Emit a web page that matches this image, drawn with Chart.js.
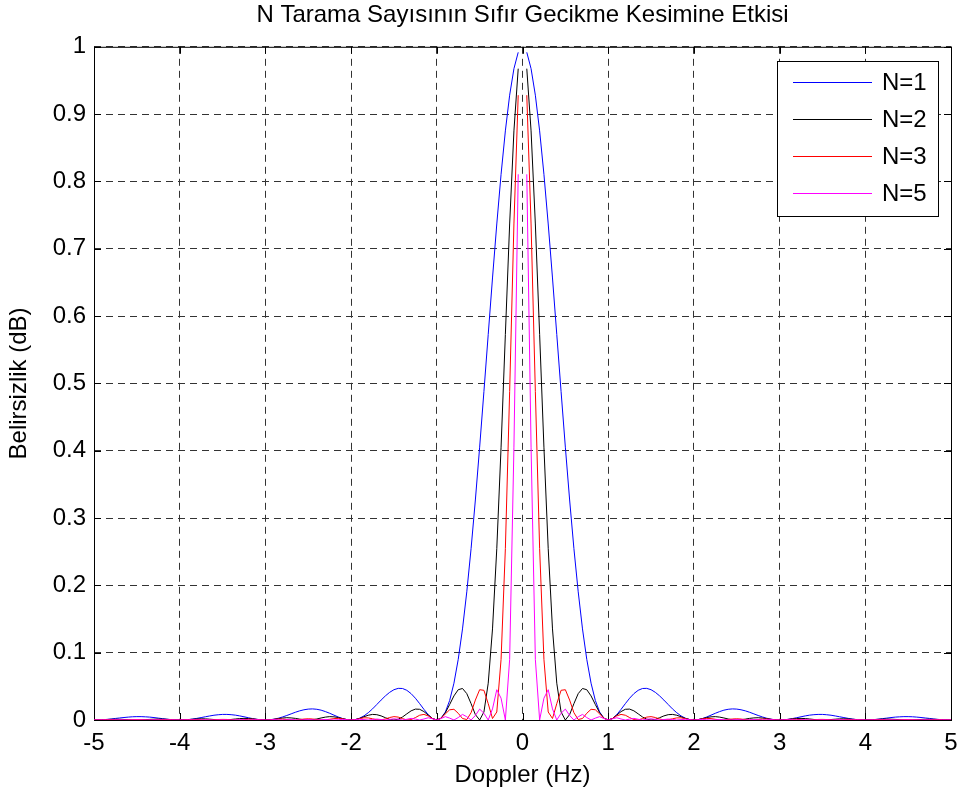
<!DOCTYPE html>
<html>
<head>
<meta charset="utf-8">
<title>N Tarama Sayısının Sıfır Gecikme Kesimine Etkisi</title>
<script src="https://cdn.jsdelivr.net/npm/chart.js@4.4.1/dist/chart.umd.min.js"></script>
<style>
    html, body { margin: 0; padding: 0; background: #fff; }
    #wrap { width: 963px; height: 796px; }
</style>
</head>
<body>
<div id="wrap"><canvas id="ambChart" width="963" height="796"></canvas></div>
<script>
// positive Doppler side (Hz); the curves are symmetric around 0
const dopplerHz = [
    0, 0.05, 0.1, 0.15, 0.2, 0.25, 0.3, 0.35, 0.4, 0.45,
    0.5, 0.55, 0.6, 0.65, 0.7, 0.75, 0.8, 0.85, 0.9, 0.95,
    1, 1.05, 1.1, 1.15, 1.2, 1.25, 1.3, 1.35, 1.4, 1.45,
    1.5, 1.55, 1.6, 1.65, 1.7, 1.75, 1.8, 1.85, 1.9, 1.95,
    2, 2.05, 2.1, 2.15, 2.2, 2.25, 2.3, 2.35, 2.4, 2.45,
    2.5, 2.55, 2.6, 2.65, 2.7, 2.75, 2.8, 2.85, 2.9, 2.95,
    3, 3.05, 3.1, 3.15, 3.2, 3.25, 3.3, 3.35, 3.4, 3.45,
    3.5, 3.55, 3.6, 3.65, 3.7, 3.75, 3.8, 3.85, 3.9, 3.95,
    4, 4.05, 4.1, 4.15, 4.2, 4.25, 4.3, 4.35, 4.4, 4.45,
    4.5, 4.55, 4.6, 4.65, 4.7, 4.75, 4.8, 4.85, 4.9, 4.95,
    5
];

// gap at 0 Hz (no sample drawn there)
const belirsizlikN1 = [
    null, 0.9918, 0.9675, 0.9281, 0.8751, 0.8106, 0.7368, 0.6566, 0.5728, 0.4881,
    0.4053, 0.3268, 0.2546, 0.1904, 0.1353, 0.0901, 0.0547, 0.0289, 0.0119, 0.0027,
    0, 0.0022, 0.0080, 0.0158, 0.0243, 0.0324, 0.0392, 0.0441, 0.0468, 0.0470,
    0.0450, 0.0411, 0.0358, 0.0296, 0.0230, 0.0165, 0.0108, 0.0061, 0.0027, 0.0007,
    0, 0.0006, 0.0022, 0.0045, 0.0072, 0.0100, 0.0125, 0.0146, 0.0159, 0.0165,
    0.0162, 0.0152, 0.0136, 0.0115, 0.0091, 0.0067, 0.0045, 0.0026, 0.0012, 0.0003,
    0, 0.0003, 0.0010, 0.0021, 0.0034, 0.0048, 0.0061, 0.0072, 0.0079, 0.0083,
    0.0083, 0.0078, 0.0071, 0.0060, 0.0048, 0.0036, 0.0024, 0.0014, 0.0006, 0.0002,
    0, 0.0002, 0.0006, 0.0012, 0.0020, 0.0028, 0.0036, 0.0043, 0.0047, 0.0050,
    0.0050, 0.0048, 0.0043, 0.0037, 0.0030, 0.0023, 0.0015, 0.0009, 0.0004, 0.0001,
    0
];

const belirsizlikN2 = [
    null, 0.9675, 0.8751, 0.7368, 0.5728, 0.4053, 0.2546, 0.1353, 0.0547, 0.0119,
    0, 0.0080, 0.0243, 0.0392, 0.0468, 0.0450, 0.0358, 0.0230, 0.0108, 0.0027,
    0, 0.0022, 0.0072, 0.0125, 0.0159, 0.0162, 0.0136, 0.0091, 0.0045, 0.0012,
    0, 0.0010, 0.0034, 0.0061, 0.0079, 0.0083, 0.0071, 0.0048, 0.0024, 0.0006,
    0, 0.0006, 0.0020, 0.0036, 0.0047, 0.0050, 0.0043, 0.0030, 0.0015, 0.0004,
    0, 0.0004, 0.0013, 0.0024, 0.0031, 0.0034, 0.0029, 0.0020, 0.0010, 0.0003,
    0, 0.0003, 0.0009, 0.0017, 0.0022, 0.0024, 0.0021, 0.0015, 0.0008, 0.0002,
    0, 0.0002, 0.0007, 0.0012, 0.0017, 0.0018, 0.0016, 0.0011, 0.0006, 0.0002,
    0, 0.0002, 0.0005, 0.0010, 0.0013, 0.0014, 0.0012, 0.0009, 0.0005, 0.0001,
    0, 0.0001, 0.0004, 0.0008, 0.0010, 0.0011, 0.0010, 0.0007, 0.0004, 0.0001,
    0
];

const belirsizlikN3 = [
    null, 0.9281, 0.7368, 0.4881, 0.2546, 0.0901, 0.0119, 0.0022, 0.0243, 0.0441,
    0.0450, 0.0296, 0.0108, 0.0007, 0.0022, 0.0100, 0.0159, 0.0152, 0.0091, 0.0026,
    0, 0.0021, 0.0061, 0.0083, 0.0071, 0.0036, 0.0006, 0.0002, 0.0020, 0.0043,
    0.0050, 0.0037, 0.0015, 0.0001, 0.0004, 0.0018, 0.0031, 0.0032, 0.0020, 0.0006,
    0, 0.0006, 0.0017, 0.0024, 0.0021, 0.0011, 0.0002, 0, 0.0007, 0.0015,
    0.0018, 0.0014, 0.0006, 0, 0.0001, 0.0007, 0.0013, 0.0014, 0.0009, 0.0003,
    0, 0.0002, 0.0008, 0.0011, 0.0010, 0.0005, 0.0001, 0, 0.0003, 0.0008,
    0.0009, 0.0007, 0.0003, 0, 0.0001, 0.0004, 0.0007, 0.0007, 0.0005, 0.0002,
    0, 0.0001, 0.0004, 0.0006, 0.0006, 0.0003, 0.0001, 0, 0.0002, 0.0005,
    0.0006, 0.0004, 0.0002, 0, 0.0001, 0.0003, 0.0004, 0.0005, 0.0003, 0.0001,
    0
];

const belirsizlikN5 = [
    null, 0.8106, 0.4053, 0.0901, 0, 0.0324, 0.0450, 0.0165, 0, 0.0100,
    0.0162, 0.0067, 0, 0.0048, 0.0083, 0.0036, 0, 0.0028, 0.0050, 0.0022,
    0, 0.0018, 0.0033, 0.0015, 0, 0.0013, 0.0024, 0.0011, 0, 0.0010,
    0.0018, 0.0008, 0, 0.0007, 0.0014, 0.0007, 0, 0.0006, 0.0011, 0.0005,
    0, 0.0005, 0.0009, 0.0004, 0, 0.0004, 0.0008, 0.0004, 0, 0.0003,
    0.0006, 0.0003, 0, 0.0003, 0.0006, 0.0003, 0, 0.0002, 0.0005, 0.0002,
    0, 0.0002, 0.0004, 0.0002, 0, 0.0002, 0.0004, 0.0002, 0, 0.0002,
    0.0003, 0.0002, 0, 0.0002, 0.0003, 0.0001, 0, 0.0001, 0.0003, 0.0001,
    0, 0.0001, 0.0002, 0.0001, 0, 0.0001, 0.0002, 0.0001, 0, 0.0001,
    0.0002, 0.0001, 0, 0.0001, 0.0002, 0.0001, 0, 0.0001, 0.0002, 0.0001,
    0
];

const seriesLabels = ["N=1", "N=2", "N=3", "N=5"];
const seriesColors = ["#0000ff", "#000000", "#ff0000", "#ff00ff"];
const xTickValues = [-5, -4, -3, -2, -1, 0, 1, 2, 3, 4, 5];
const yTickValues = [0, 0.1, 0.2, 0.3, 0.4, 0.5, 0.6, 0.7, 0.8, 0.9, 1];

const FONT = "'Liberation Sans', Arial, Helvetica, sans-serif";

function toPoints(values) {
    const pts = [];
    for (let i = dopplerHz.length - 1; i > 0; i--) {
        pts.push({ x: -dopplerHz[i], y: values[i] });
    }
    for (let i = 0; i < dopplerHz.length; i++) {
        pts.push({ x: dopplerHz[i], y: values[i] });
    }
    return pts;
}

// axes box + inward tick marks, like the matlab figure
const boxPlugin = {
    id: "boxPlugin",
    beforeDatasetsDraw(chart) {
        const { ctx, chartArea: a, scales } = chart;
        const len = 7;
        ctx.save();
        ctx.strokeStyle = "#000";
        ctx.lineWidth = 1;
        ctx.setLineDash([]);
        ctx.strokeRect(a.left + 0.5, a.top + 0.5, a.right - a.left, a.bottom - a.top);
        ctx.beginPath();
        xTickValues.forEach(v => {
            const px = Math.round(scales.x.getPixelForValue(v)) + 0.5;
            ctx.moveTo(px, a.bottom);
            ctx.lineTo(px, a.bottom - len);
            ctx.moveTo(px, a.top);
            ctx.lineTo(px, a.top + len);
        });
        yTickValues.forEach(v => {
            const py = Math.round(scales.y.getPixelForValue(v)) + 0.5;
            ctx.moveTo(a.left, py);
            ctx.lineTo(a.left + len, py);
            ctx.moveTo(a.right, py);
            ctx.lineTo(a.right - len, py);
        });
        ctx.stroke();
        ctx.restore();
    }
};

const legendPlugin = {
    id: "legendPlugin",
    afterDraw(chart) {
        const ctx = chart.ctx;
        const box = { x: 777, y: 61, w: 161, h: 155 };
        ctx.save();
        ctx.fillStyle = "#fff";
        ctx.fillRect(box.x, box.y, box.w, box.h);
        ctx.strokeStyle = "#000";
        ctx.lineWidth = 1;
        ctx.strokeRect(box.x + 0.5, box.y + 0.5, box.w, box.h);
        ctx.font = "24px " + FONT;
        ctx.textBaseline = "middle";
        ctx.textAlign = "left";
        seriesLabels.forEach((label, i) => {
            const y = Math.round(box.y + 21 + i * 37) + 0.5;
            ctx.strokeStyle = seriesColors[i];
            ctx.beginPath();
            ctx.moveTo(793, y);
            ctx.lineTo(872, y);
            ctx.stroke();
            ctx.fillStyle = "#000";
            ctx.fillText(label, 882, y + 1);
        });
        ctx.restore();
    }
};

const seriesValues = [belirsizlikN1, belirsizlikN2, belirsizlikN3, belirsizlikN5];

const datasets = seriesValues.map((vals, i) => ({
    label: seriesLabels[i],
    data: toPoints(vals),
    borderColor: seriesColors[i],
    borderWidth: 1,
    pointRadius: 0,
    tension: 0,
    fill: false,
    spanGaps: false,
    order: seriesValues.length - i
}));

const tickFont = { family: FONT, size: 24 };

new Chart(document.getElementById("ambChart"), {
    type: "line",
    data: { datasets: datasets },
    options: {
        responsive: false,
        animation: false,
        devicePixelRatio: 1,
        layout: { padding: { left: 0, right: 12, top: 0, bottom: 0 } },
        plugins: {
            legend: { display: false },
            tooltip: { enabled: false },
            title: {
                display: true,
                fullSize: false,
                text: "N Tarama Sayısının Sıfır Gecikme Kesimine Etkisi",
                color: "#000",
                font: { family: FONT, size: 24, weight: "normal" },
                padding: { top: 1, bottom: 17 }
            }
        },
        scales: {
            x: {
                type: "linear",
                min: -5,
                max: 5,
                afterBuildTicks: s => { s.ticks = xTickValues.map(v => ({ value: v })); },
                afterFit: s => {
                    s.height = 76;
                    s.paddingLeft = 0;
                    s.paddingRight = 0;
                },
                ticks: {
                    font: tickFont,
                    color: "#000",
                    padding: 9,
                    maxRotation: 0,
                    autoSkip: false,
                    callback: v => String(v)
                },
                grid: { color: "#333", lineWidth: 1, drawTicks: false },
                border: { display: false, dash: [7, 5] },
                title: {
                    display: true,
                    text: "Doppler (Hz)",
                    color: "#000",
                    font: tickFont,
                    padding: { top: 0, bottom: 6 }
                }
            },
            y: {
                type: "linear",
                min: 0,
                max: 1,
                afterBuildTicks: s => { s.ticks = yTickValues.map(v => ({ value: v })); },
                afterFit: s => {
                    s.width = 94;
                    s.paddingTop = 0;
                    s.paddingBottom = 0;
                },
                ticks: {
                    font: tickFont,
                    color: "#000",
                    padding: 8,
                    autoSkip: false,
                    callback: v => String(+v.toFixed(1))
                },
                grid: { color: "#333", lineWidth: 1, drawTicks: false },
                border: { display: false, dash: [7, 5] },
                title: {
                    display: true,
                    text: "Belirsizlik (dB)",
                    color: "#000",
                    font: tickFont,
                    padding: { top: 5, bottom: 0 }
                }
            }
        }
    },
    plugins: [boxPlugin, legendPlugin]
});
</script>
</body>
</html>
